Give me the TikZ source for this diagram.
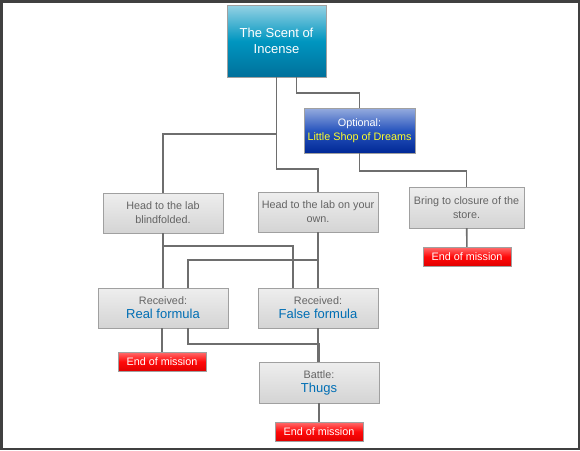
\documentclass[tikz,border=0pt]{standalone}
\usepackage{fontspec}
\setmainfont{Liberation Sans}
\usepackage{xcolor}
\usepackage{tikz}

\definecolor{boxedge}{RGB}{160,160,160}
\definecolor{boxtext}{RGB}{100,100,100}
\definecolor{formula}{RGB}{0,110,180}
\definecolor{wire}{RGB}{110,110,110}
\definecolor{shopyellow}{RGB}{255,255,40}

\begin{document}
\begin{tikzpicture}[
  x=1pt, y=-1pt,
  box/.style={draw=boxedge, minimum width=120pt, minimum height=40pt, align=center, text=boxtext,
    font=\fontsize{10.8}{14}\selectfont, top color={rgb,255:red,238;green,238;blue,238}, bottom color={rgb,255:red,212;green,212;blue,212}},
  endbox/.style={draw=boxedge, minimum width=88pt, minimum height=19pt, inner sep=1pt, text=white,
    font=\fontsize{10.8}{12}\selectfont, top color={rgb,255:red,255;green,110;blue,110}, bottom color={rgb,255:red,225;green,0;blue,0},
    middle color={rgb,255:red,255;green,10;blue,10}},
  big/.style={font=\fontsize{13}{16}\selectfont, text=formula},
  wire/.style={draw=wire, line width=1.6pt}
]
\useasboundingbox (0,0) rectangle (580,450);
\fill[white] (0,0) rectangle (580,450);

\node[draw=boxedge, minimum width=99pt, minimum height=72pt, align=center, text=white,
  font=\fontsize{13}{16}\selectfont, top color={rgb,255:red,150;green,210;blue,228},
  bottom color={rgb,255:red,0;green,112;blue,155}, middle color={rgb,255:red,0;green,150;blue,192}]
  (title) at (276.5,41) {The Scent of\\Incense};
\node[draw=boxedge, minimum width=111pt, minimum height=45pt, align=center, text=white,
  font=\fontsize{10.8}{14}\selectfont, top color={rgb,255:red,150;green,172;blue,222},
  bottom color={rgb,255:red,0;green,40;blue,150}, middle color={rgb,255:red,40;green,85;blue,190}]
  (optional) at (359.5,130.5) {Optional:\\\textcolor{shopyellow}{Little Shop of Dreams}};

\node[box] (blind) at (163,213)   {Head to the lab\\blindfolded.};
\node[box] (own)   at (318,212)   {Head to the lab on your\\own.};
\node[box, minimum width=115pt, minimum height=41pt] (bring) at (466.5,207.5) {Bring to closure of the\\store.};
\node[box, minimum width=130pt] (real)  at (163,308) {Received:\\{\fontsize{13}{16}\selectfont\color{formula}Real formula}};
\node[box] (false) at (318,308)  {Received:\\{\fontsize{13}{16}\selectfont\color{formula}False formula}};
\node[box, minimum height=41pt] (battle) at (319,382.5) {Battle:\\{\fontsize{13}{16}\selectfont\color{formula}Thugs}};

\node[endbox] (endshop)   at (467,256.5) {End of mission};
\node[endbox] (endreal)   at (162,361.5) {End of mission};
\node[endbox] (endbattle) at (319,431.5) {End of mission};

\begin{scope}[wire]
\draw (title.south) -- ++(0,57) -| (blind.north);
\draw (title.south) -- ++(0,92) -| (own.north);
\draw ([xshift=20pt]title.south) -- ++(0,16) -| (optional.north);
\draw (optional.south) -- ++(0,18) -| (bring.north);
\draw (bring) -- (endshop);
\draw (blind) -- (real);
\draw (blind.south) -- ++(0,13) -| ([xshift=-25pt]false.north);
\draw (own) -- (false);
\draw (own.south) -- ++(0,28) -| ([xshift=25pt]real.north);
\draw (real.south -| endreal) -- (endreal);
\draw ([xshift=25pt]real.south) -- ++(0,16) -| (battle.north);
\draw (false) -- (battle.north -| false);
\draw (battle) -- (endbattle);
\end{scope}

\draw[black!75, line width=2.5pt] (1.25,1.25) rectangle (578.75,448.75);
\end{tikzpicture}
\end{document}
